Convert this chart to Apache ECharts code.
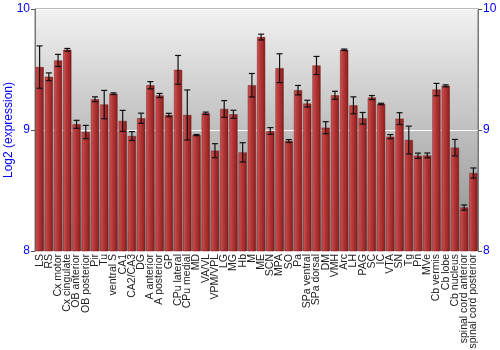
<!DOCTYPE html>
<html><head><meta charset="utf-8">
<script src="https://cdn.jsdelivr.net/npm/echarts@6/dist/echarts.min.js"></script>
<style>html,body{margin:0;padding:0;background:#fff}#c{width:500px;height:350px}</style>
</head><body><div id="c"></div>
<script>
var categories = ["LS","RS","Cx motor","Cx cingulate","OB anterior","OB posterior","Pir","Tu","ventral S","CA1","CA2/CA3","DG","A anterior","A posterior","GP","CPu lateral","CPu medial","MD","VA/VL","VPM/VPL","LG","MG","Hb","M","ME","SCN","MPA","SO","Pa","SPa ventral","SPa dorsal","DM","VMH","Arc","LH","PAG","SC","IC","VTA","SN","Tg","Pn","MVe","Cb vermis","Cb lobe","Cb nucleus","spinal cord anterior","spinal cord posterior"];
var values = [9.52,9.44,9.575,9.663,9.047,8.983,9.254,9.21,9.30,9.075,8.95,9.097,9.37,9.285,9.124,9.497,9.124,8.958,9.138,8.829,9.174,9.13,8.815,9.37,9.768,8.992,9.511,8.909,9.329,9.218,9.533,9.019,9.287,9.663,9.204,9.097,9.268,9.215,8.945,9.094,8.917,8.787,8.79,9.334,9.365,8.854,8.359,8.644];
var errors = [0.175,0.032,0.05,0.011,0.033,0.055,0.02,0.117,0.007,0.087,0.037,0.042,0.03,0.017,0.014,0.119,0.207,0.005,0.01,0.058,0.069,0.033,0.08,0.097,0.024,0.028,0.119,0.012,0.039,0.028,0.075,0.05,0.033,0.006,0.07,0.048,0.017,0.006,0.017,0.049,0.115,0.022,0.02,0.051,0.008,0.068,0.022,0.042];
var yTicks = [8, 9, 10];

var chart = echarts.init(document.getElementById('c'), null, {renderer:'canvas'});
var errData = values.map(function(v,i){return [i, v - errors[i], v + errors[i]];});
var yAxisBase = {
  type:'value', min:yTicks[0], max:yTicks[yTicks.length-1], interval:1,
  axisLine:{show:true, lineStyle:{color:'#777'}},
  axisTick:{show:true, length:4, lineStyle:{color:'#555'}},
  axisLabel:{color:'#0000ff', fontSize:12, fontFamily:'Liberation Sans', margin:5},
  splitLine:{show:false}
};
chart.setOption({
  animation:false,
  grid:{left:35, right:22, top:9, bottom:99, containLabel:false, outerBoundsMode:'none', show:true, borderColor:'#777', borderWidth:1,
    backgroundColor:new echarts.graphic.LinearGradient(0,0,0,1,[{offset:0,color:'#f2f2f2'},{offset:1,color:'#8c8c8c'}])},
  xAxis:{type:'category', data:categories,
    axisLine:{show:false}, axisTick:{show:false},
    axisLabel:{interval:0, rotate:90, fontSize:10.5, color:'#222', fontFamily:'Liberation Sans', margin:3}},
  yAxis:[
    Object.assign({}, yAxisBase, {position:'left', name:'Log2 (expression)', nameLocation:'middle', nameGap:20, nameMoveOverlap:false,
      nameTextStyle:{color:'#0000ff', fontSize:12, fontFamily:'Liberation Sans'},
      splitLine:{show:true, lineStyle:{color:'#ffffff', width:1}}}),
    Object.assign({}, yAxisBase, {position:'right'})
  ],
  series:[
    {type:'bar', data:values, barCategoryGap:'12%',
      itemStyle:{color:new echarts.graphic.LinearGradient(0,0,1,0,[
        {offset:0,color:'#d05656'},{offset:0.35,color:'#b83a3a'},{offset:0.8,color:'#9a2626'},{offset:1,color:'#7a1818'}]),
        borderColor:'#7a1a1a', borderWidth:0.5}},
    {type:'custom', data:errData, z:10,
      renderItem:function(params, api){
        var x = api.value(0);
        var lo = api.coord([x, api.value(1)]);
        var hi = api.coord([x, api.value(2)]);
        var w = 3;
        var st = {stroke:'#111', lineWidth:1.2};
        return {type:'group', children:[
          {type:'line', shape:{x1:lo[0], y1:lo[1], x2:hi[0], y2:hi[1]}, style:st},
          {type:'line', shape:{x1:lo[0]-w, y1:lo[1], x2:lo[0]+w, y2:lo[1]}, style:st},
          {type:'line', shape:{x1:hi[0]-w, y1:hi[1], x2:hi[0]+w, y2:hi[1]}, style:st}
        ]};
      }}
  ]
});
</script></body></html>
